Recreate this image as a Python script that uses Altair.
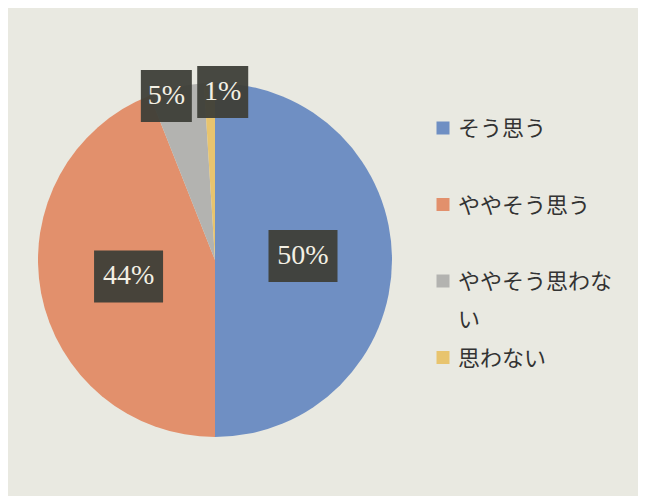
import altair as alt
import pandas as pd

categories = ["そう思う", "ややそう思う", "ややそう思わない", "思わない"]
values = [50, 44, 5, 1]
labels = ["50%", "44%", "5%", "1%"]
colors = ["#6f8fc3", "#e2906c", "#b3b3b0", "#e8c46e"]

df = pd.DataFrame({"category": categories, "value": values, "label": labels,
                   "order": list(range(len(categories)))})

CX, CY, R = 207, 252, 177
color_scale = alt.Scale(domain=categories, range=colors)

base = alt.Chart(df)

pie = base.mark_arc(outerRadius=R).encode(
    theta=alt.Theta("value:Q", stack=True),
    order=alt.Order("order:Q"),
    color=alt.Color("category:N", scale=color_scale, sort=categories, legend=None),
    x=alt.value(CX),
    y=alt.value(CY),
)

pos = (
    base.transform_joinaggregate(total="sum(value)")
    .transform_window(cum="sum(value)", sort=[alt.SortField("order")], frame=[None, 0])
    .transform_calculate(mid="(datum.cum - datum.value / 2) / datum.total * 2 * PI")
    .transform_calculate(
        rr="datum.value >= 10 ? 88 : 168",
        shift="datum.category == '思わない' ? 13 : (datum.category == 'ややそう思わない' ? -12 : 0)",
        vshift="datum.category == 'そう思う' ? -4 : 0",
    )
    .transform_calculate(
        px=f"{CX} + datum.rr * sin(datum.mid) + datum.shift",
        py=f"{CY} - datum.rr * cos(datum.mid) + datum.vshift",
    )
    .transform_calculate(
        hw="length(datum.label) == 3 ? 34.5 : 25.5",
    )
    .transform_calculate(
        x0="datum.px - datum.hw", x1="datum.px + datum.hw",
        y0="datum.py - 26", y1="datum.py + 26",
    )
)

boxes = pos.mark_rect(color="#3e3f38", opacity=0.95).encode(
    x=alt.X("x0:Q", scale=None, axis=None),
    x2="x1:Q",
    y=alt.Y("y0:Q", scale=None, axis=None),
    y2="y1:Q",
)

texts = pos.mark_text(font="Liberation Serif", fontSize=28, color="#f3f0e4",
                      baseline="middle", align="center").encode(
    x=alt.X("px:Q", scale=None, axis=None),
    y=alt.Y("py:Q", scale=None, axis=None),
    text="label:N",
)

# legend (drawn by hand so the wrapped entry matches the original layout)
leg = base.transform_calculate(
    ly="120 + datum.order * 76.5",
    ty="120 + datum.order * 76.5 + 8",
    lt="datum.category == 'ややそう思わない' ? ['ややそう思わな', 'い'] : datum.category",
)

leg_sym = leg.mark_square(size=169, opacity=1, filled=True).encode(
    x=alt.value(435),
    y=alt.Y("ly:Q", scale=None, axis=None),
    color=alt.Color("category:N", scale=color_scale, legend=None),
)

leg_txt = leg.mark_text(font="Noto Sans CJK JP", fontSize=22, color="#333333",
                        align="left", baseline="alphabetic", lineHeight=38).encode(
    x=alt.value(450),
    y=alt.Y("ty:Q", scale=None, axis=None),
    text=alt.Text("lt:N"),
)

chart = (
    alt.layer(pie, boxes, texts, leg_sym, leg_txt)
    .properties(width=630, height=488, padding=0, background="#e9e9e1",
                autosize=alt.AutoSizeParams(type="none"))
    .configure_view(stroke=None)
)

chart.save("out.html", embed_options={"renderer": "svg", "actions": False})
